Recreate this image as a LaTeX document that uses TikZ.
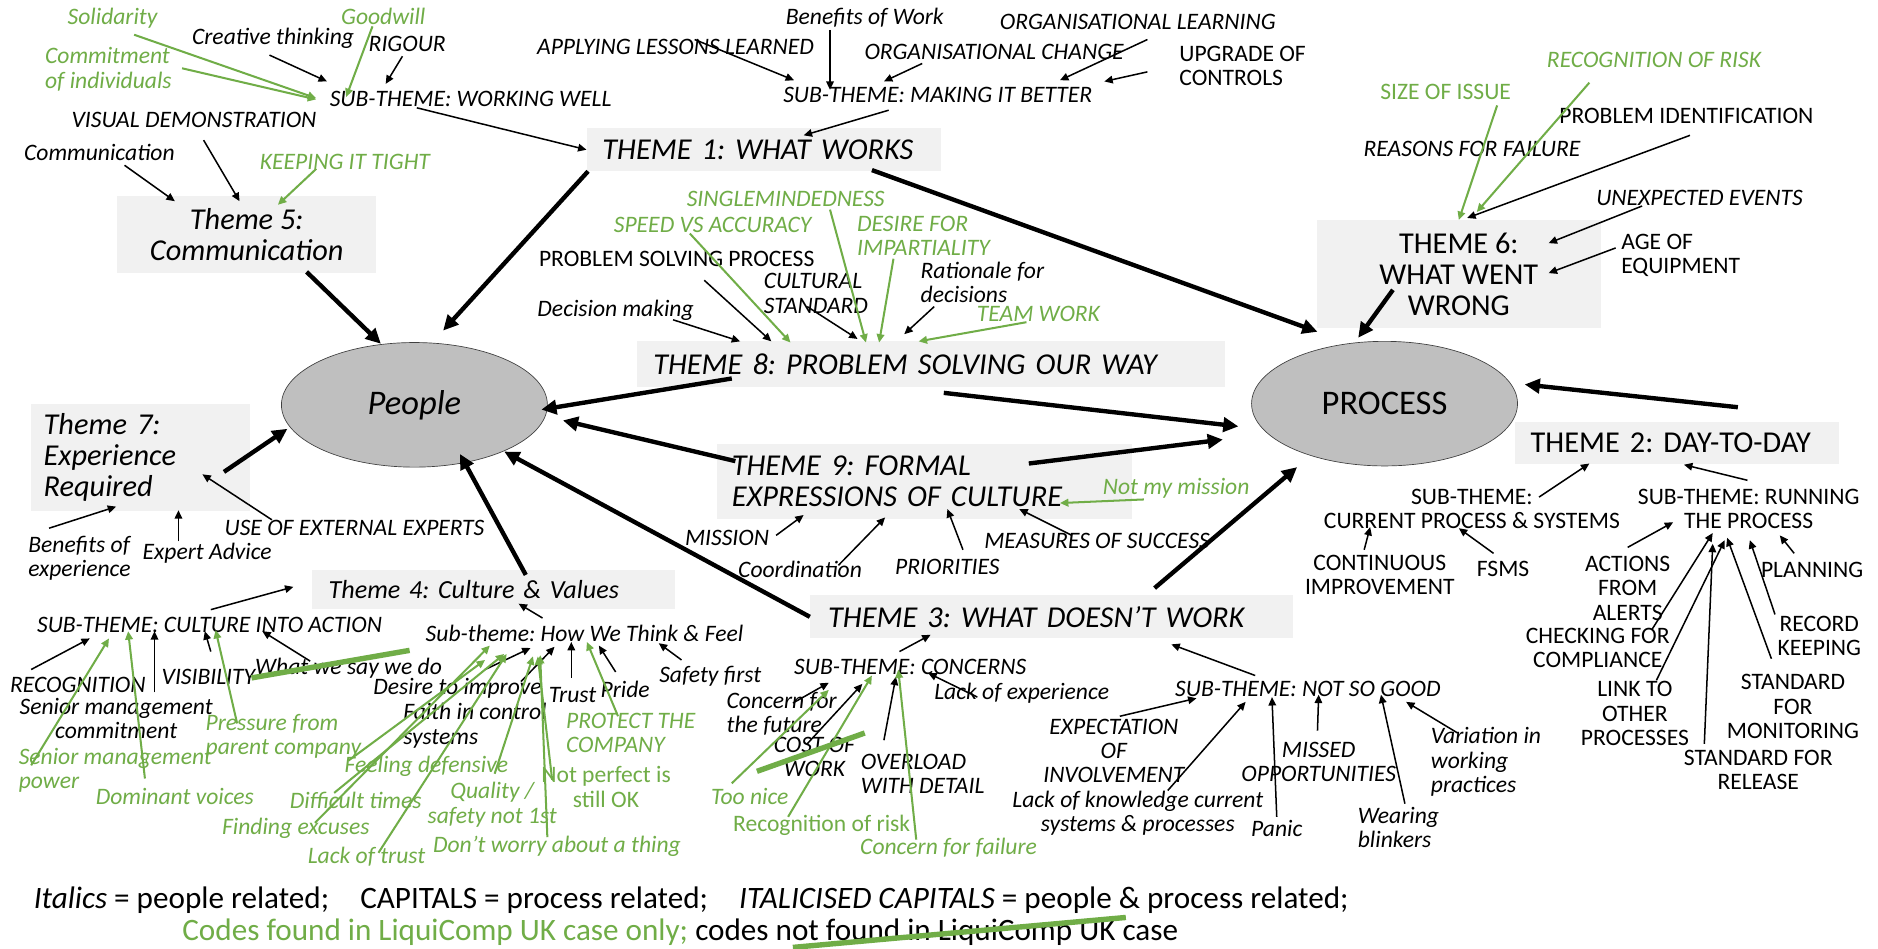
\documentclass[tikz,border=0pt]{standalone}
\usepackage{fontspec}
\setmainfont{Carlito}
\usetikzlibrary{arrows.meta, shapes.geometric}

\definecolor{codegreen}{RGB}{112,173,71}
\definecolor{boxgrey}{RGB}{241,241,241}
\definecolor{blobgrey}{RGB}{191,191,191}
\newcommand{\lblfont}{\fontsize{14}{14.5}\selectfont}
\newcommand{\themefont}{\fontsize{18}{18.5}\selectfont}
\newcommand{\blobfont}{\fontsize{20.5}{22}\selectfont}
\frenchspacing

\begin{document}
\begin{tikzpicture}[x=0.025cm, y=-0.025cm,
    lab/.style={inner sep=1pt, align=center, font=\lblfont},
    ital/.style={lab, font=\lblfont\itshape},
    grn/.style={text=codegreen},
    theme/.style={fill=boxgrey, inner ysep=0pt, align=center, font=\themefont},
    itheme/.style={theme, font=\themefont\itshape},
    blob/.style={ellipse, draw=black!75, fill=blobgrey, minimum width=5.55cm, minimum height=2.6cm, font=\blobfont},
    arr/.style={-{Triangle[length=5pt, width=4.5pt]}, line width=0.9pt},
    garr/.style={arr, draw=codegreen, line width=1.2pt},
    big/.style={-{Triangle[length=9pt, width=8.5pt]}, line width=2.6pt},
    strike/.style={draw=codegreen, line width=3.2pt}
]
\fill[white] (0,0) rectangle (1568,792);
\useasboundingbox (0,0) rectangle (1568,792);

% the two centres
\node[blob, font=\blobfont\itshape] (people) at (346,338) {People};
\node[blob] (process) at (1156,337) {PROCESS};

% themes
\node[itheme, inner xsep=0.325cm, text width=6.75cm, align=left, minimum height=0.9cm] (t1) at (638,125) {THEME 1: WHAT WORKS};
\node[theme, inner xsep=0.325cm, text width=6.1cm, align=left, minimum height=0.875cm] (t2) at (1400,370) {THEME 2: DAY-TO-DAY};
\node[itheme, inner xsep=0.375cm, text width=9.325cm, align=left, minimum height=0.9cm] (t3) at (878,515) {THEME 3: WHAT DOESN’T WORK};
\node[itheme, font=\fontsize{15.5}{18.5}\selectfont\itshape, inner xsep=0.35cm, text width=6.875cm, align=left, minimum height=0.825cm] (t4) at (412,492) {Theme 4: Culture \& Values};
\node[itheme, minimum width=5.4cm, minimum height=1.6cm] (t5) at (206,196) {Theme 5:\\Communication};
\node[theme, minimum width=5.925cm, minimum height=2.25cm] (t6) at (1218,229) {THEME 6:\\WHAT WENT\\WRONG};
\node[itheme, inner xsep=0.275cm, text width=4.025cm, align=left, minimum height=2.25cm] (t7) at (117,382) {Theme 7:\\Experience\\Required};
\node[itheme, inner xsep=0.35cm, text width=11.575cm, align=left, minimum height=0.95cm] (t8) at (777,304) {THEME 8: PROBLEM SOLVING OUR WAY};
\node[itheme, inner xsep=0.3cm, text width=8.05cm, align=left, minimum height=1.575cm] (t9) at (772,402) {THEME 9: FORMAL\\EXPRESSIONS OF CULTURE};

% theme 1 and 5 codes
\node[ital, grn] (solid) at (94,15) {Solidarity};
\node[ital, grn] (goodw) at (320,14) {Goodwill};
\node[ital] (creat) at (228,32) {Creative thinking};
\node[ital] (rigour) at (340,37) {RIGOUR};
\node[ital, grn, align=left, anchor=west] (commit) at (36,58) {Commitment\\of individuals};
\node[ital] (ww) at (393,83) {SUB-THEME: WORKING WELL};
\node[ital] (visual) at (162,100) {VISUAL DEMONSTRATION};
\node[ital] (commun) at (83,127) {Communication};
\node[ital, grn] (keep) at (288,135) {KEEPING IT TIGHT};
\node[ital] (bwork) at (722,15) {Benefits of Work};
\node[ital] (orglearn) at (950,18) {ORGANISATIONAL LEARNING};
\node[ital] (apply) at (564,39) {APPLYING LESSONS LEARNED};
\node[ital] (orgchange) at (830,43) {ORGANISATIONAL CHANGE};
\node[lab, align=left, anchor=west] (upgrade) at (983,55) {UPGRADE OF\\CONTROLS};
\node[ital] (mib) at (783,79) {SUB-THEME: MAKING IT BETTER};

% theme 6 codes
\node[ital, grn] (recrisk) at (1381,50) {RECOGNITION OF RISK};
\node[lab, grn] (sizeiss) at (1207,77) {SIZE OF ISSUE};
\node[lab] (probid) at (1408,97) {PROBLEM IDENTIFICATION};
\node[ital] (reasons) at (1229,124) {REASONS FOR FAILURE};
\node[ital] (unexp) at (1419,165) {UNEXPECTED EVENTS};
\node[lab, align=left, anchor=west] (ageeq) at (1352,213) {AGE OF\\EQUIPMENT};

% theme 8 codes
\node[ital, grn] (single) at (656,166) {SINGLEMINDEDNESS};
\node[ital, grn] (speed) at (595,188) {SPEED VS ACCURACY};
\node[ital, grn, align=left, anchor=west] (desire) at (714,197) {DESIRE FOR\\IMPARTIALITY};
\node[lab] (psp) at (565,216) {PROBLEM SOLVING PROCESS};
\node[ital, align=left, anchor=west] (cultural) at (636,245) {CULTURAL\\STANDARD};
\node[ital, align=left, anchor=west] (ration) at (767,236) {Rationale for\\decisions};
\node[ital] (decis) at (514,259) {Decision making};
\node[ital, grn] (team) at (867,262) {TEAM WORK};

% theme 7 codes
\node[ital, align=left, anchor=west] (benexp) at (22,466) {Benefits of\\experience};
\node[ital] (expadv) at (173,462) {Expert Advice};
\node[ital] (useext) at (296,441) {USE OF EXTERNAL EXPERTS};

% theme 9 codes
\node[ital, grn] (notmy) at (982,408) {Not my mission};
\node[ital] (mission) at (607,449) {MISSION};
\node[ital] (coord) at (668,475) {Coordination};
\node[ital] (prior) at (791,473) {PRIORITIES};
\node[ital] (measures) at (916,452) {MEASURES OF SUCCESS};

% theme 4 codes
\node[ital] (cia) at (175,522) {SUB-THEME: CULTURE INTO ACTION};
\node[ital] (hwtf) at (488,529) {Sub-theme: How We Think \& Feel};
\node[ital] (recog) at (65,572) {RECOGNITION};
\node[ital] (smc) at (97,600) {Senior management\\commitment};
\node[ital] (visib) at (174,565) {VISIBILITY};
\node[ital] (whatsay) at (291,558) {What we say we do};
\node[ital, grn, align=left, anchor=west] (smp) at (14,643) {Senior management\\power};
\node[ital, grn] (domin) at (146,665) {Dominant voices};
\node[ital, grn, align=left, anchor=west] (press) at (170,615) {Pressure from\\parent company};
\node[ital] (desimp) at (382,575) {Desire to improve};
\node[ital] (trust) at (478,580) {Trust};
\node[ital] (pride) at (522,576) {Pride};
\node[ital] (safety) at (593,565) {Safety first};
\node[ital, align=left, anchor=west] (faith) at (335,606) {Faith in control\\systems};
\node[ital, grn, align=left, anchor=west] (protect) at (471,612) {PROTECT THE\\COMPANY};
\node[ital, grn] (feeldef) at (356,640) {Feeling defensive};
\node[lab, grn] (notperf) at (506,657) {Not perfect is\\still OK};
\node[ital, grn] (diff) at (297,668) {Difficult times};
\node[ital, grn] (quality) at (411,672) {Quality /\\safety not 1st};
\node[ital, grn] (findex) at (247,692) {Finding excuses};
\node[ital, grn] (lacktr) at (306,715) {Lack of trust};
\node[ital, grn] (dontw) at (465,707) {Don’t worry about a thing};

% theme 3 codes
\node[ital] (conc) at (760,557) {SUB-THEME: CONCERNS};
\node[ital] (lackexp) at (853,579) {Lack of experience};
\node[ital, align=left, anchor=west] (concfut) at (605,596) {Concern for\\the future};
\node[ital] (costw) at (680,632) {COST OF\\WORK};
\node[ital, align=left, anchor=west] (overl) at (717,646) {OVERLOAD\\WITH DETAIL};
\node[ital, grn] (toonice) at (626,665) {Too nice};
\node[lab, grn] (recrisk2) at (686,689) {Recognition of risk};
\node[ital, grn] (concfail) at (792,708) {Concern for failure};
\node[ital] (nsg) at (1092,575) {SUB-THEME: NOT SO GOOD};
\node[ital] (expinv) at (930,627) {EXPECTATION\\OF\\INVOLVEMENT};
\node[ital] (missed) at (1101,636) {MISSED\\OPPORTUNITIES};
\node[ital, align=left, anchor=west] (variat) at (1193,636) {Variation in\\working\\practices};
\node[ital] (lackkn) at (950,679) {Lack of knowledge current\\systems \& processes};
\node[ital] (panic) at (1066,692) {Panic};
\node[ital, align=left, anchor=west] (wearing) at (1132,691) {Wearing\\blinkers};

% theme 2 codes
\node[lab] (cps) at (1229,425) {SUB-THEME:\\CURRENT PROCESS \& SYSTEMS};
\node[lab] (runp) at (1460,425) {SUB-THEME: RUNNING\\THE PROCESS};
\node[lab] (contimp) at (1152,480) {CONTINUOUS\\IMPROVEMENT};
\node[lab] (fsms) at (1255,475) {FSMS};
\node[lab] (actions) at (1359,491) {ACTIONS\\FROM\\ALERTS};
\node[lab] (planning) at (1513,476) {PLANNING};
\node[lab] (checking) at (1334,541) {CHECKING FOR\\COMPLIANCE};
\node[lab] (record) at (1519,531) {RECORD\\KEEPING};
\node[lab] (linkto) at (1365,596) {LINK TO\\OTHER\\PROCESSES};
\node[lab] (stdmon) at (1497,590) {STANDARD\\FOR\\MONITORING};
\node[lab] (stdrel) at (1468,643) {STANDARD FOR\\RELEASE};

% key
\node[anchor=west, inner sep=0pt, font=\fontsize{18.5}{20}\selectfont] (leg1) at (28,752) {\textit{Italics} = people related;\quad CAPITALS = process related;\quad \textit{ITALICISED CAPITALS} = people \& process related;};
\node[anchor=west, inner sep=0pt, font=\fontsize{18.5}{20}\selectfont] (leg2) at (152,778) {\textcolor{codegreen}{Codes found in LiquiComp UK case only;} codes not found in LiquiComp UK case};
\draw[strike] ([shift={(510,13)}]leg2.west) -- ([shift={(788,-12)}]leg2.west);

% working well, making it better
\draw[garr] ([shift={(18,14)}]solid.center) -- ([shift={(-129,-1)}]ww.center);
\draw[garr] ([shift={(116,-1)}]commit.west) -- ([shift={(-129,0)}]ww.center);
\draw[garr] ([shift={(-9,8)}]goodw.center) -- ([shift={(-104,-2)}]ww.center);
\draw[arr] ([shift={(-3,14)}]creat.center) -- ([shift={(-120,-15)}]ww.center);
\draw[arr] ([shift={(-4,10)}]rigour.center) -- ([shift={(-71,-13)}]ww.center);
\draw[arr] ([shift={(-45,7)}]ww.center) -- (t1.west);
\draw[arr] ([shift={(16,-6)}]apply.center) -- ([shift={(-120,-12)}]mib.center);
\draw[arr] ([shift={(-29,10)}]bwork.center) -- ([shift={(-90,-4)}]mib.center);
\draw[arr] ([shift={(-60,10)}]orgchange.center) -- ([shift={(-45,-11)}]mib.center);
\draw[arr] ([shift={(8,15)}]orglearn.center) -- ([shift={(102,-12)}]mib.center);
\draw[arr] ([shift={(-25,5)}]upgrade.west) -- ([shift={(139,-11)}]mib.center);
\draw[arr] ([shift={(-41,13)}]mib.center) -- ([shift={(33,-12)}]t1.center);

% communication
\draw[arr] ([shift={(21,11)}]commun.center) -- ([shift={(-60,-28)}]t5.center);
\draw[arr] ([shift={(8,17)}]visual.center) -- ([shift={(-6,-28)}]t5.center);
\draw[garr] ([shift={(-24,6)}]keep.center) -- ([shift={(26,-25)}]t5.center);

% what went wrong
\draw[garr] ([shift={(43,11)}]sizeiss.center) -- (t6.north);
\draw[garr] ([shift={(-54,19)}]recrisk.center) -- ([shift={(15,-52)}]t6.center);
\draw[arr] ([shift={(3,16)}]probid.center) -- ([shift={(7,-47)}]t6.center);
\draw[arr] ([shift={(-48,7)}]unexp.center) -- ([shift={(75,-26)}]t6.center);
\draw[arr] ([shift={(-3,-6)}]ageeq.west) -- ([shift={(75,-1)}]t6.center);

% problem solving
\draw[arr] ([shift={(48,8)}]decis.center) -- ([shift={(-159,-19)}]t8.center);
\draw[arr] ([shift={(23,18)}]psp.center) -- ([shift={(-133,-19)}]t8.center);
\draw[garr] ([shift={(-19,7)}]speed.center) -- ([shift={(-117,-18)}]t8.center);
\draw[arr] ([shift={(38,11)}]cultural.west) -- ([shift={(-61,-21)}]t8.center);
\draw[garr] ([shift={(37,9)}]single.center) -- ([shift={(-54,-18)}]t8.center);
\draw[garr] ([shift={(32,19)}]desire.west) -- ([shift={(-43,-18)}]t8.center);
\draw[arr] ([shift={(13,20)}]ration.west) -- ([shift={(-22,-25)}]t8.center);
\draw[garr] ([shift={(-10,7)}]team.center) -- ([shift={(-10,-19)}]t8.center);

% experience
\draw[arr] ([shift={(19,-25)}]benexp.west) -- ([shift={(-20,41)}]t7.center);
\draw[arr] ([shift={(-24,-10)}]expadv.center) -- ([shift={(32,44)}]t7.center);
\draw[arr] ([shift={(-69,-7)}]useext.center) -- ([shift={(52,14)}]t7.center);

% formal expressions
\draw[garr] ([shift={(-27,9)}]notmy.center) -- ([shift={(113,18)}]t9.center);
\draw[arr] ([shift={(41,-2)}]mission.center) -- ([shift={(-101,28)}]t9.center);
\draw[arr] ([shift={(32,-3)}]coord.center) -- ([shift={(-33,30)}]t9.center);
\draw[arr] ([shift={(13,-14)}]prior.center) -- ([shift={(19,23)}]t9.center);
\draw[arr] ([shift={(-21,-5)}]measures.center) -- ([shift={(79,23)}]t9.center);

% culture and values
\draw[arr] ([shift={(1,-13)}]cia.center) -- ([shift={(-167,-2)}]t4.center);
\draw[arr] ([shift={(-35,-13)}]hwtf.center) -- ([shift={(21,12)}]t4.center);
\draw[arr] ([shift={(-39,-13)}]recog.center) -- ([shift={(-100,11)}]cia.center);
\draw[arr] ([shift={(32,-22)}]smc.center) -- ([shift={(-46,5)}]cia.center);
\draw[arr] ([shift={(2,-21)}]visib.center) -- ([shift={(-4,5)}]cia.center);
\draw[arr] ([shift={(-32,-6)}]whatsay.center) -- ([shift={(44,5)}]cia.center);
\draw[garr] ([shift={(12,-4)}]smp.west) -- ([shift={(-84,11)}]cia.center);
\draw[garr] ([shift={(-25,-15)}]domin.center) -- ([shift={(-68,5)}]cia.center);
\draw[garr] ([shift={(28,-11)}]press.west) -- ([shift={(5,4)}]cia.center);
\draw[strike] ([shift={(36,1)}]visib.center) -- ([shift={(51,-15)}]whatsay.center);
\draw[arr] ([shift={(23,-16)}]desimp.center) -- ([shift={(-45,12)}]hwtf.center);
\draw[arr] ([shift={(100,-37)}]faith.west) -- ([shift={(-25,11)}]hwtf.center);
\draw[arr] ([shift={(-1,-14)}]trust.center) -- ([shift={(-11,7)}]hwtf.center);
\draw[arr] ([shift={(-8,-15)}]pride.center) -- ([shift={(12,10)}]hwtf.center);
\draw[arr] ([shift={(-24,-14)}]safety.center) -- ([shift={(62,8)}]hwtf.center);
\draw[garr] ([shift={(16,-5)}]findex.center) -- ([shift={(-79,10)}]hwtf.center);
\draw[garr] ([shift={(-18,-6)}]diff.center) -- ([shift={(-67,17)}]hwtf.center);
\draw[garr] ([shift={(10,-3)}]lacktr.center) -- ([shift={(-65,17)}]hwtf.center);
\draw[garr] ([shift={(-65,-5)}]feeldef.center) -- ([shift={(-83,22)}]hwtf.center);
\draw[garr] ([shift={(2,-26)}]quality.center) -- ([shift={(-43,19)}]hwtf.center);
\draw[garr] ([shift={(-8,-8)}]dontw.center) -- ([shift={(-37,18)}]hwtf.center);
\draw[garr] ([shift={(-45,-6)}]notperf.center) -- ([shift={(-39,19)}]hwtf.center);
\draw[garr] ([shift={(45,-14)}]protect.west) -- ([shift={(2,7)}]hwtf.center);

% what doesn't work
\draw[arr] ([shift={(-9,-13)}]conc.center) -- ([shift={(-101,15)}]t3.center);
\draw[arr] ([shift={(-37,3)}]lackexp.center) -- ([shift={(15,5)}]conc.center);
\draw[arr] ([shift={(57,-9)}]concfut.west) -- ([shift={(-68,13)}]conc.center);
\draw[arr] ([shift={(-6,-11)}]costw.center) -- ([shift={(-40,14)}]conc.center);
\draw[arr] ([shift={(21,-28)}]overl.west) -- ([shift={(-12,8)}]conc.center);
\draw[garr] ([shift={(-15,-11)}]toonice.center) -- ([shift={(-68,19)}]conc.center);
\draw[garr] ([shift={(-28,-7)}]recrisk2.center) -- ([shift={(-32,7)}]conc.center);
\draw[garr] ([shift={(-27,-7)}]concfail.center) -- ([shift={(-10,2)}]conc.center);
\draw[strike] ([shift={(-48,12)}]costw.center) -- ([shift={(42,-20)}]costw.center);
\draw[arr] ([shift={(-44,-11)}]nsg.center) -- ([shift={(100,23)}]t3.center);
\draw[arr] ([shift={(5,-29)}]expinv.center) -- ([shift={(-93,8)}]nsg.center);
\draw[arr] ([shift={(25,-19)}]lackkn.center) -- ([shift={(-52,11)}]nsg.center);
\draw[arr] ([shift={(0,-10)}]panic.center) -- ([shift={(-30,7)}]nsg.center);
\draw[arr] ([shift={(-1,-26)}]missed.center) -- ([shift={(9,5)}]nsg.center);
\draw[arr] ([shift={(41,-20)}]wearing.west) -- ([shift={(61,5)}]nsg.center);
\draw[arr] ([shift={(24,-24)}]variat.west) -- ([shift={(82,11)}]nsg.center);

% day-to-day
\draw[arr] ([shift={(56,-10)}]cps.center) -- ([shift={(-73,17)}]t2.center);
\draw[arr] ([shift={(-1,-24)}]runp.center) -- ([shift={(6,18)}]t2.center);
\draw[arr] ([shift={(-13,-21)}]contimp.center) -- ([shift={(-85,15)}]cps.center);
\draw[arr] ([shift={(-8,-13)}]fsms.center) -- ([shift={(-11,16)}]cps.center);
\draw[arr] ([shift={(0,-34)}]actions.center) -- ([shift={(-63,11)}]runp.center);
\draw[arr] ([shift={(45,-15)}]checking.center) -- ([shift={(-30,20)}]runp.center);
\draw[arr] ([shift={(18,-28)}]linkto.center) -- ([shift={(-20,26)}]runp.center);
\draw[arr] ([shift={(-45,-22)}]stdrel.center) -- ([shift={(-30,29)}]runp.center);
\draw[arr] ([shift={(-18,-40)}]stdmon.center) -- ([shift={(-18,24)}]runp.center);
\draw[arr] ([shift={(-37,-18)}]record.center) -- ([shift={(1,26)}]runp.center);
\draw[arr] ([shift={(-15,-14)}]planning.center) -- ([shift={(26,22)}]runp.center);

% themes into people / process
\draw[big] ([shift={(50,31)}]t5.center) -- ([shift={(-28,-51)}]people.center);
\draw[big] ([shift={(-147,18)}]t1.center) -- ([shift={(24,-62)}]people.center);
\draw[big] ([shift={(90,17)}]t1.center) -- ([shift={(-56,-60)}]process.center);
\draw[big] ([shift={(-55,13)}]t6.center) -- ([shift={(-22,-55)}]process.center);
\draw[big] ([shift={(-166,12)}]t8.center) -- ([shift={(106,4)}]people.center);
\draw[big] ([shift={(11,24)}]t8.center) -- ([shift={(-122,19)}]process.center);
\draw[big] ([shift={(70,12)}]t7.center) -- ([shift={(-106,20)}]people.center);
\draw[big] ([shift={(-158,-17)}]t9.center) -- ([shift={(124,13)}]people.center);
\draw[big] ([shift={(87,-15)}]t9.center) -- ([shift={(-135,30)}]process.center);
\draw[big] ([shift={(27,-12)}]t4.center) -- ([shift={(38,41)}]people.center);
\draw[big] (t3.west) -- ([shift={(75,39)}]people.center);
\draw[big] ([shift={(86,-24)}]t3.center) -- ([shift={(-73,53)}]process.center);
\draw[big] ([shift={(51,-30)}]t2.center) -- ([shift={(117,-16)}]process.center);
\end{tikzpicture}
\end{document}
